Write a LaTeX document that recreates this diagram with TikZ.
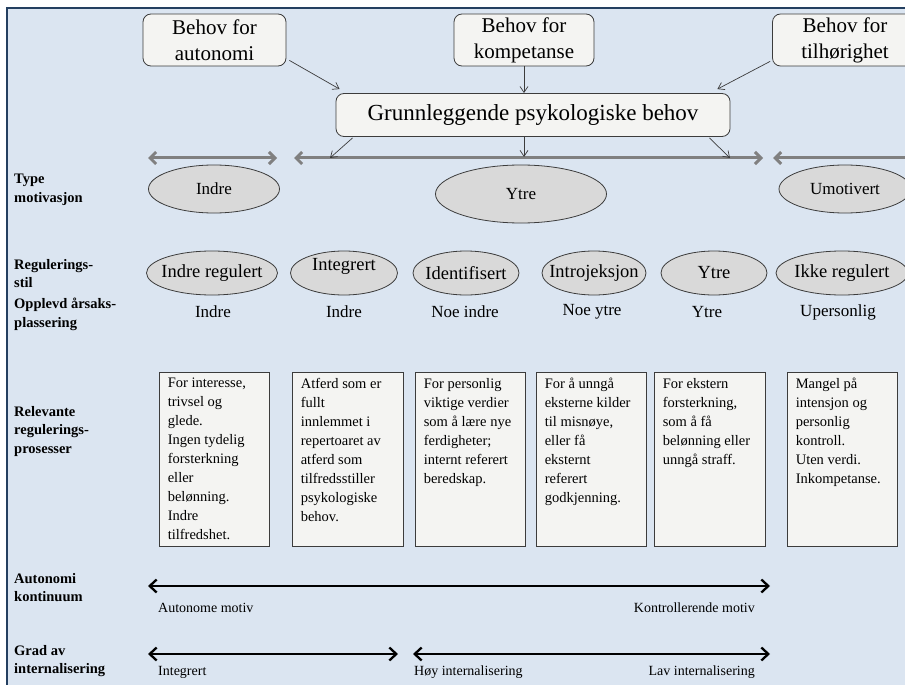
\documentclass[tikz,border=0pt]{standalone}
\usepackage{fontspec}
\setmainfont{Liberation Serif}
\usetikzlibrary{arrows.meta,shapes.geometric,calc}

\definecolor{panel}{HTML}{DBE5F1}
\definecolor{frameblue}{HTML}{243F60}
\definecolor{edge}{HTML}{3C3C3C}
\definecolor{boxfill}{HTML}{F4F4F2}
\definecolor{ovalfill}{HTML}{D9D9D9}
\definecolor{bar}{HTML}{808080}

\newcommand\fsz[2]{\fontsize{#1bp}{#2bp}\selectfont}

\begin{document}
\begin{tikzpicture}[x=1bp,y=-1bp,
  needbox/.style={draw=edge, fill=boxfill, rounded corners=8bp, line width=0.8bp,
    minimum width=#1, minimum height=52bp, align=center, inner sep=0pt,
    font=\fsz{21}{26}},
  mainbox/.style={draw=edge, fill=boxfill, rounded corners=8bp, line width=0.8bp,
    minimum width=394bp, minimum height=43bp, inner sep=0pt, font=\fsz{23}{27}},
  oval/.style={ellipse, draw=edge, fill=ovalfill, line width=0.8bp, inner sep=0pt,
    minimum width=#1, font=\fsz{17}{20}},
  ovaltext/.style={inner sep=0pt, font=\fsz{18.5}{22}},
  rowtext/.style={font=\fsz{17}{20}, inner sep=0pt},
  procbox/.style={draw=edge, fill=boxfill, line width=0.8bp, minimum width=#1,
    minimum height=174bp, anchor=north, inner sep=0pt},
  proctext/.style={anchor=north west, align=left, inner sep=0pt, font=\fsz{14.5}{19}},
  lbl/.style={anchor=north west, align=left, inner sep=0pt, font=\fsz{14.5}{18.5}\bfseries},
  endtext/.style={inner sep=0pt, font=\fsz{14}{17}},
  feed/.style={draw=edge, line width=0.7bp, -{Straight Barb[length=6bp,width=8bp]}},
  band/.style={draw=bar, line width=3bp, {Straight Barb[length=6bp,width=12bp]}-{Straight Barb[length=6bp,width=12bp]}},
  scale bar/.style={draw=black, line width=2.3bp, {Straight Barb[length=7bp,width=13bp]}-{Straight Barb[length=7bp,width=13bp]}}
]
\useasboundingbox (0,0) rectangle (905,685);
\clip (0,0) rectangle (905,685);

% panel and frame
\fill[white] (0,0) rectangle (905,685);
\fill[panel] (7,8) rectangle (910,690);
\draw[frameblue, line width=2.5bp] (7,692) -- (7,8) -- (912,8);

% the three needs
\node[needbox=143bp] (aut) at (214.5,40) {Behov for\\autonomi};
\node[needbox=140bp] (komp) at (524,40) {Behov for\\kompetanse};
\node[needbox=145bp] (tilh) at (845,40) {Behov for\\tilhørighet};
\node[mainbox] (basic) at (533,115) {Grunnleggende psykologiske behov};

\draw[feed] ($(aut.south east)+(3,-6)$) -- ($(basic.north west)+(4,-4)$);
\draw[feed] (komp.south -| 524,0) -- (basic.north -| 524,0);
\draw[feed] ($(tilh.south west)+(-2,-5)$) -- ($(basic.north east)+(-13,-4)$);

% grey bands above the motivation types
\coordinate (b1l) at (148,158); \coordinate (b1r) at (277,158);
\coordinate (b2l) at (294,158); \coordinate (b2r) at (763,158);
\coordinate (b3l) at (773,158); \coordinate (b3r) at (915,158);
\draw[band] (b1l) -- (b1r);
\draw[band] (b2l) -- (b2r);
\draw[draw=bar, line width=3bp, {Straight Barb[length=6bp,width=12bp]}-] (b3l) -- (b3r);

\coordinate (h1) at (330,158);
\coordinate (h2) at (524,157);
\coordinate (h3) at (730,158);
\draw[feed] ($(basic.south west)+(17,1)$) -- (h1);
\draw[feed] (basic.south -| h2) -- (h2);
\draw[feed] ($(basic.south east)+(-21,1)$) -- (h3);

% row labels
\node[lbl] (lab1) at (14,174) {Type\\motivasjon};
\node[lbl] (lab2) at (14,259) {Regulerings-\\stil};
\node[lbl] (lab3) at (14,298) {Opplevd  årsaks-\\plassering};
\node[lbl] (lab4) at (14,406) {Relevante\\regulerings-\\prosesser};
\node[lbl] (lab5) at (14,573) {Autonomi\\kontinuum};
\node[lbl] (lab6) at (14,645) {Grad  av\\internalisering};

% type of motivation
\node[oval=131bp, minimum height=48bp] (m1) at (214,189) {Indre};
\node[oval=171bp, minimum height=58bp] (m2) at (521,194) {Ytre};
\node[oval=132bp, minimum height=48bp] (m3) at (845,189) {Umotivert};

% regulatory styles: ovals first, their texts on top
\node[oval=131bp, minimum height=44bp] (r1) at (212,273) {};
\node[oval=107bp, minimum height=44bp] (r2) at (344,273) {};
\node[oval=106bp, minimum height=44bp] (r3) at (466,273) {};
\node[oval=104bp, minimum height=44bp] (r4) at (594,273) {};
\node[oval=106bp, minimum height=44bp] (r5) at (714,273) {};
\node[oval=132bp, minimum height=44bp] (r6) at (842,273) {};
\node[ovaltext] (r1t) at (r1) {Indre regulert};
\node[ovaltext] (r2t) at ($(r2)+(0,-7)$) {Integrert};
\node[ovaltext] (r3t) at (r3) {Identifisert};
\node[ovaltext] (r4t) at (r4) {Introjeksjon};
\node[ovaltext] (r5t) at (r5) {Ytre};
\node[ovaltext] (r6t) at (r6) {Ikke regulert};

% perceived locus of causality
\node[rowtext] (c1) at (213,312) {Indre};
\node[rowtext] (c2) at (344,312) {Indre};
\node[rowtext] (c3) at (465,312) {Noe indre};
\node[rowtext] (c4) at (592,312) {Noe ytre};
\node[rowtext] (c5) at (707,312) {Ytre};
\node[rowtext] (c6) at (838,312) {Upersonlig};

% regulatory processes
\node[procbox=110bp] (p1) at (214,372) {};
\node[procbox=111bp] (p2) at (347.5,372) {};
\node[procbox=110bp] (p3) at (470,372) {};
\node[procbox=110bp] (p4) at (591,372) {};
\node[procbox=111bp] (p5) at (709.5,372) {};
\node[procbox=110bp] (p6) at (842,372) {};

\node[proctext] (q1) at ($(p1.north west)+(9,6)$)
  {For interesse,\\trivsel  og\\glede.\\Ingen tydelig\\forsterkning\\eller\\belønning.\\Indre\\tilfredshet.};
\node[proctext] (q2) at ($(p2.north west)+(9,6)$)
  {Atferd  som  er\\fullt\\innlemmet  i\\repertoaret  av\\atferd  som\\tilfredsstiller\\psykologiske\\behov.};
\node[proctext] (q3) at ($(p3.north west)+(9,6)$)
  {For personlig\\viktige  verdier\\som å lære nye\\ferdigheter;\\internt  referert\\beredskap.};
\node[proctext] (q4) at ($(p4.north west)+(9,6)$)
  {For å unngå\\eksterne kilder\\til misnøye,\\eller  få\\eksternt\\referert\\godkjenning.};
\node[proctext] (q5) at ($(p5.north west)+(9,6)$)
  {For ekstern\\forsterkning,\\som  å få\\belønning  eller\\unngå  straff.};
\node[proctext] (q6) at ($(p6.north west)+(9,6)$)
  {Mangel  på\\intensjon  og\\personlig\\kontroll.\\Uten verdi.\\Inkompetanse.};

% autonomy continuum
\coordinate (k1l) at (148,586); \coordinate (k1r) at (770,586);
\draw[scale bar] (k1l) -- (k1r);
\node[endtext, anchor=west] (e1) at (158,608) {Autonome  motiv};
\node[endtext, anchor=east] (e2) at (755,608) {Kontrollerende  motiv};

% degree of internalisation
\coordinate (k2l) at (148,654); \coordinate (k2r) at (398,654);
\coordinate (k3l) at (413,654); \coordinate (k3r) at (770,654);
\draw[scale bar] (k2l) -- (k2r);
\draw[scale bar] (k3l) -- (k3r);
\node[endtext, anchor=west] (e3) at (158,672) {Integrert};
\node[endtext, anchor=west] (e4) at (414,672) {Høy internalisering};
\node[endtext, anchor=east] (e5) at (755,672) {Lav internalisering};
\end{tikzpicture}
\end{document}
